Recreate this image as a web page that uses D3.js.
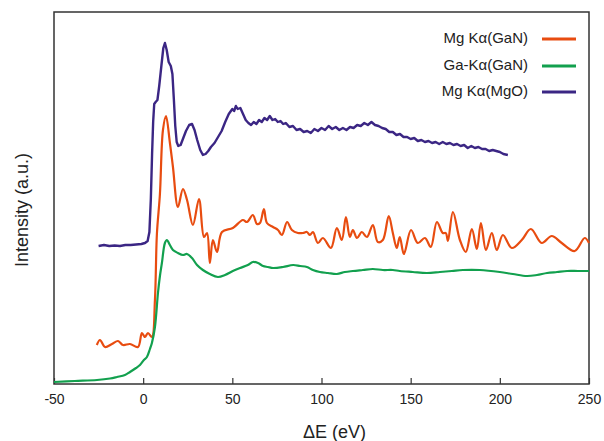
<html><head>
<meta charset="utf-8">
<title>XAS spectra</title>
<script src="https://cdn.jsdelivr.net/npm/d3@7"></script>
<style>
  body { margin: 0; background: #fff; }
  text { font-family: "Liberation Sans", Arial, sans-serif; fill: #222; }
</style>
</head>
<body>
<svg id="chart" width="604" height="441"></svg>
<script>
  // energy (eV) vs intensity (a.u.) for each spectrum
  let mgGaN = [[-26,39],[-24.2,44],[-21.4,37],[-17.5,40],[-14.1,43],[-11.3,39],[-7.4,40],[-2.9,37],[-0.7,51],[1,47],[2.7,51],[4.9,47],
    [6.6,84],[7.7,150],[9.4,190],[11.1,254],[12.8,268],[15,241],[16.7,217],[19.5,177],[22.3,195],[24.6,184],[27.9,159],[31.3,185],
    [34.1,147],[35.8,151],[37.4,121],[39.1,144],[41.4,132],[44.2,152],[50.3,156],[55.9,164],[58.2,162],[61.5,169],[63.8,160],
    [65.5,161],[67.7,175],[69.4,161],[72.8,157],[75.6,154],[77.8,149],[80.7,162],[83.4,154],[86.8,151],[89.6,151],[91.8,152],
    [93.5,149],[95.2,152],[98,141],[100.8,146],[105.3,136],[108.6,156],[111.4,144],[113.7,167],[115.9,147],[117.6,154],[119.9,146],
    [122.6,152],[125.5,147],[128.8,159],[131.6,142],[134.4,144],[137.7,168],[140,151],[142.2,136],[143.9,147],[146.2,130],
    [150.2,154],[154,141],[158,146],[161.3,137],[164.7,162],[168,151],[169.7,151],[170.9,143],[173.7,172],[177.6,144],[180.9,132],
    [184.3,155],[187.1,135],[189.4,161],[192.2,134],[195.5,151],[198.3,134],[201.7,149],[206.7,136],[212.3,144],[217.4,155],
    [223.5,141],[229.1,148],[234.7,141],[242,133],[247.6,146],[250,141]];

  let gaGaN = [[-50,2],[-38.3,3],[-25.9,4],[-18.6,5.5],[-14.7,7],[-10.2,9],[-7.4,12],[-4,16],[-1.8,19],[0.4,24],[2.1,27],[3.8,35],
    [4.9,41],[6.6,57],[8.3,91],[9.4,108],[10.5,121],[12.2,141],[13.3,144],[15,139],[16.7,134],[19.5,131],[22.3,129],[24.6,130],
    [27.4,126],[30.2,119],[33.5,114],[37.4,110],[41.9,107],[45.9,109],[50.3,113],[54.3,116],[58.7,119],[61.5,122],[64.4,121],
    [67.2,118],[70,117],[72.8,116],[78.4,117],[84.1,119],[88,118],[91.8,117],[95.2,114],[99.1,112],[103.6,111],[108.6,110],
    [113.1,112],[117.6,113],[123.2,114],[128.8,115],[134.4,114],[140,114],[143.9,113],[151.2,112],[159.1,111],[166.4,112],
    [173.1,113],[179.3,114],[188.8,114],[200,112],[207.3,110],[215.2,108],[220.8,109],[226.5,111],[232.1,112],[237.7,113],
    [243.8,113],[250,113]];

  let mgMgO = [[-25,138],[-22,139],[-19,138],[-16,138.5],[-13,138],[-10,139],[-7,139],[-4,139.5],[-1,140],[1,141],[2.5,143],
    [3.5,152],[4.3,185],[5,230],[5.6,262],[6.2,280],[7,282],[8,284],[9,298],[10.2,318],[11.3,336],[12.2,341],[13.2,334],[14.3,322],
    [15.5,318],[16.4,310],[17.2,285],[18,258],[18.8,242],[19.7,238],[21,239],[22.5,246],[24,253],[25.8,259],[27.4,260],[28.8,254],
    [30.3,244],[32,234],[33.5,229],[35,230],[36.5,233],[38,237],[40,241],[42,247],[44,253],[46,262],[48,270],[50,275],[51,273],
    [52,278],[53,275],[54.5,276],[56,270],[57.5,264],[59,261],[60.5,259],[62,262],[63.5,260],[65,264],[66.5,262],[68,266],
    [69.5,264],[71,268],[72.5,264],[74,265],[75.5,262],[77,263],[78.5,260],[80,261],[82,257],[84,258],[86,254],[88,255],[90,252],
    [92,253],[94,251],[96,255],[98,253],[100,256],[102,254],[104,258],[106,255],[108,257],[110,254],[112,256],[114,254],[116,257],
    [118,256],[120,259],[122,258],[124,261],[126,259],[128,262],[130,259],[132,258],[134,256],[136,255],[138,252],[140,252],
    [142,249],[144,250],[146,247],[148,247],[150,245],[152,246],[154,243],[156,244],[158,242],[160,243],[162,241],[164,242],
    [166,240],[168,242],[170,240],[172,241],[174,239],[176,240],[178,238],[180,239],[182,236],[184,238],[186,236],[188,237],
    [190,235],[192,235],[194,233],[196,234],[198,233],[200,232],[202,230],[204.5,229]];

  let seriesNames = ["Mg K\u03b1(GaN)", "Ga-K\u03b1(GaN)", "Mg K\u03b1(MgO)"];
  let seriesColors = ["#e84c10", "#12a04e", "#3b2684"];
  let xTicks = [-50, 0, 50, 100, 150, 200, 250];

  let svg = d3.select("#chart");
  let plotLeft = 54, plotRight = 589, plotTop = 12, plotBottom = 384;

  let x = d3.scaleLinear().domain([-50, 250]).range([plotLeft, plotRight]);
  let y = d3.scaleLinear().domain([0, 372]).range([plotBottom, plotTop]);

  // frame
  svg.append("rect")
      .attr("x", plotLeft).attr("y", plotTop)
      .attr("width", plotRight - plotLeft).attr("height", plotBottom - plotTop)
      .style("fill", "none").style("stroke", "#333").style("stroke-width", 1.5);

  // bottom axis, ticks pointing inward, plain hyphen for minus
  let xAxis = svg.append("g")
      .attr("transform", "translate(0," + plotBottom + ")")
      .call(d3.axisBottom(x).tickValues(xTicks).tickFormat(function(d) { return String(d); })
        .tickSizeInner(-6).tickSizeOuter(0).tickPadding(10));
  xAxis.select(".domain").remove();
  xAxis.selectAll("line").style("stroke", "#333").style("stroke-width", 1.2);
  xAxis.selectAll("text")
      .style("font-size", "14px")
      .style("font-family", "Liberation Sans, Arial, sans-serif")
      .style("fill", "#222");

  svg.append("text")
      .attr("x", (plotLeft + plotRight) / 2 + 13).attr("y", 438)
      .attr("text-anchor", "middle")
      .style("font-size", "18px")
      .text("\u0394E (eV)");

  svg.append("text")
      .attr("transform", "translate(28,210) rotate(-90)")
      .attr("text-anchor", "middle")
      .style("font-size", "18px")
      .text("Intensity (a.u.)");

  // smooth curves for the GaN spectra, raw polyline for the noisy MgO one
  let curves = [d3.curveCatmullRom, d3.curveCatmullRom, d3.curveLinear];

  [mgGaN, gaGaN, mgMgO].forEach(function(d, i) {
    let line = d3.line()
        .x(function(p) { return x(p[0]); })
        .y(function(p) { return y(p[1]); })
        .curve(curves[i]);
    svg.append("path")
        .datum(d)
        .attr("d", line)
        .style("fill", "none")
        .style("stroke", seriesColors[i])
        .style("stroke-width", i == 2 ? 2.4 : 2.2)
        .style("stroke-linejoin", "round");
  });

  // legend
  let legendY = [38, 65, 91];
  seriesNames.forEach(function(name, i) {
    svg.append("text")
        .attr("x", 528).attr("y", legendY[i])
        .attr("dy", "0.35em")
        .attr("text-anchor", "end")
        .style("font-size", "15px")
        .text(name);
    svg.append("line")
        .attr("x1", 542).attr("x2", 576)
        .attr("y1", legendY[i] + 1).attr("y2", legendY[i] + 1)
        .style("stroke", seriesColors[i])
        .style("stroke-width", 3);
  });
</script>
</body>
</html>
